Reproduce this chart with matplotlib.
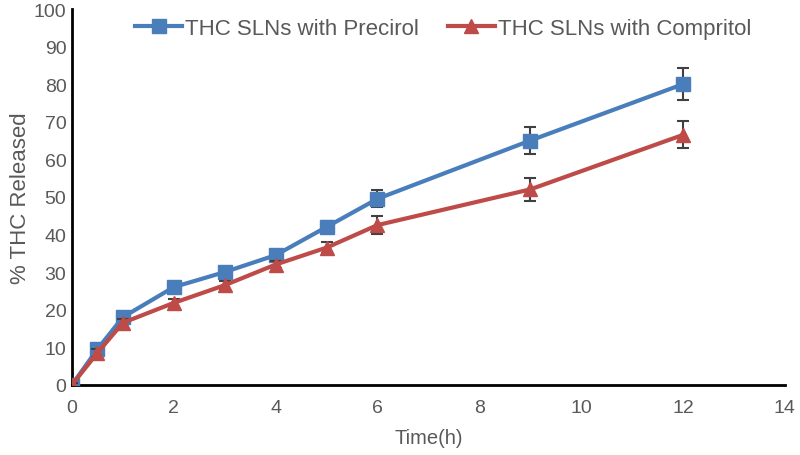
import numpy as np
import matplotlib.pyplot as plt

time_h = [0, 0.5, 1, 2, 3, 4, 5, 6, 9, 12]
precirol = [0, 9.5, 18, 26, 30, 34.5, 42, 49.5, 65, 80]
precirol_err = [0.5, 1, 1, 1, 1, 1, 1.5, 2.3, 3.5, 4.2]
compritol = [0, 8.5, 16.5, 21.8, 26.5, 32, 36.5, 42.5, 52, 66.5]
compritol_err = [0.5, 1, 1, 1, 1, 1, 1.5, 2.3, 3, 3.6]

labels = ['THC SLNs with Precirol', 'THC SLNs with Compritol']
colors = ['#4a7ebb', '#be4b48']
text_color = '#595959'

plt.rcParams['font.family'] = ['Liberation Sans', 'DejaVu Sans']

fig, ax = plt.subplots(figsize=(8, 4.56), dpi=100)
fig.subplots_adjust(left=0.09, right=0.981, top=0.978, bottom=0.154)

ax.errorbar(time_h, precirol, yerr=precirol_err, color=colors[0], marker='s',
            markersize=9.5, linewidth=3, ecolor='#404040', elinewidth=1.5,
            capsize=4, capthick=1.5, label=labels[0], zorder=3)
ax.errorbar(time_h, compritol, yerr=compritol_err, color=colors[1], marker='^',
            markersize=10, linewidth=3, ecolor='#404040', elinewidth=1.5,
            capsize=4, capthick=1.5, label=labels[1], zorder=4)

ax.set_xlim(0, 14)
ax.set_ylim(0, 100)
ax.set_xticks(np.arange(0, 15, 2))
ax.set_yticks(np.arange(0, 101, 10))
ax.tick_params(length=0, labelsize=14, colors=text_color)
ax.tick_params(axis='x', pad=10)
ax.tick_params(axis='y', pad=4)
for side in ['top', 'right']:
    ax.spines[side].set_visible(False)
for side in ['left', 'bottom']:
    ax.spines[side].set_linewidth(2)
    ax.spines[side].set_color('black')

ax.set_xlabel('Time(h)', fontsize=14.5, color=text_color, labelpad=9)
ax.set_ylabel('% THC Released', fontsize=16, color=text_color, labelpad=2)

handles, lbls = ax.get_legend_handles_labels()
handles = [h[0] for h in handles]
leg = fig.legend(handles, lbls, loc='center left', bbox_to_anchor=(0.169, 0.936),
                 ncol=2, frameon=False, fontsize=16, handlelength=2.1,
                 handletextpad=0.15, columnspacing=1.3, borderpad=0,
                 borderaxespad=0)
for t in leg.get_texts():
    t.set_color(text_color)

fig.savefig('out.png', dpi=100)
